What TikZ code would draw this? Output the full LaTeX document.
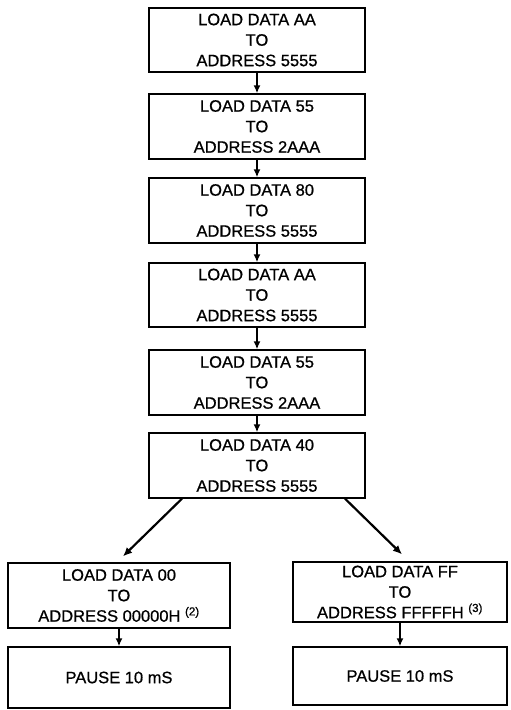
\documentclass[tikz,border=0pt]{standalone}
\usepackage{fontspec}
\setmainfont{Liberation Sans}
\newfontfamily\boxfont{Liberation Sans}[FakeBold=0.8]
\usetikzlibrary{arrows.meta,calc}
\begin{document}
\begin{tikzpicture}[x=1pt,y=-1pt,
  box/.style={draw, line width=1.3pt, rectangle, inner sep=0pt, align=center,
    font=\boxfont\fontsize{16.5}{20.5}\selectfont},
  arr/.style={line width=1.8pt, -{Latex[length=8pt,width=7pt]}},
  darr/.style={line width=2.2pt, -{Latex[length=9pt,width=8pt]}}]
\useasboundingbox (0,0) rectangle (511,710);
\node[box, minimum width=216, minimum height=64] (b1) at (257,40) {LOAD DATA AA\\TO\\ADDRESS 5555};
\node[box, minimum width=216, minimum height=65] (b2) at (257,126.5) {LOAD DATA 55\\TO\\ADDRESS 2AAA};
\node[box, minimum width=216, minimum height=65] (b3) at (257,210.5) {LOAD DATA 80\\TO\\ADDRESS 5555};
\node[box, minimum width=216, minimum height=64] (b4) at (257,295) {LOAD DATA AA\\TO\\ADDRESS 5555};
\node[box, minimum width=216, minimum height=65] (b5) at (257,382.5) {LOAD DATA 55\\TO\\ADDRESS 2AAA};
\node[box, minimum width=216, minimum height=65] (b6) at (257,465.5) {LOAD DATA 40\\TO\\ADDRESS 5555};
\node[box, minimum width=222, minimum height=65] (l1) at (119,595.5) {LOAD DATA 00\\TO\\ADDRESS 00000H \textsuperscript{(2)}};
\node[box, minimum width=222, minimum height=61] (l2) at (119,677.5) {PAUSE 10 mS};
\node[box, minimum width=214, minimum height=60] (r1) at (400,592) {LOAD DATA FF\\TO\\ADDRESS FFFFFH \textsuperscript{(3)}};
\node[box, minimum width=214, minimum height=58] (r2) at (400,676) {PAUSE 10 mS};
\foreach \a/\b in {b1/b2,b2/b3,b3/b4,b4/b5,b5/b6,l1/l2,r1/r2}
  \draw[arr] (\a.south) -- (\b.north);
\coordinate (ls) at ($(b6.south)+(-75,0)$);
\coordinate (le) at ($(l1.north)+(4,-6)$);
\coordinate (rs) at ($(b6.south)+(88,0)$);
\coordinate (re) at ($(r1.north)+(2,-7)$);
\draw[darr] (ls) -- (le);
\draw[darr] (rs) -- (re);
\end{tikzpicture}
\end{document}
